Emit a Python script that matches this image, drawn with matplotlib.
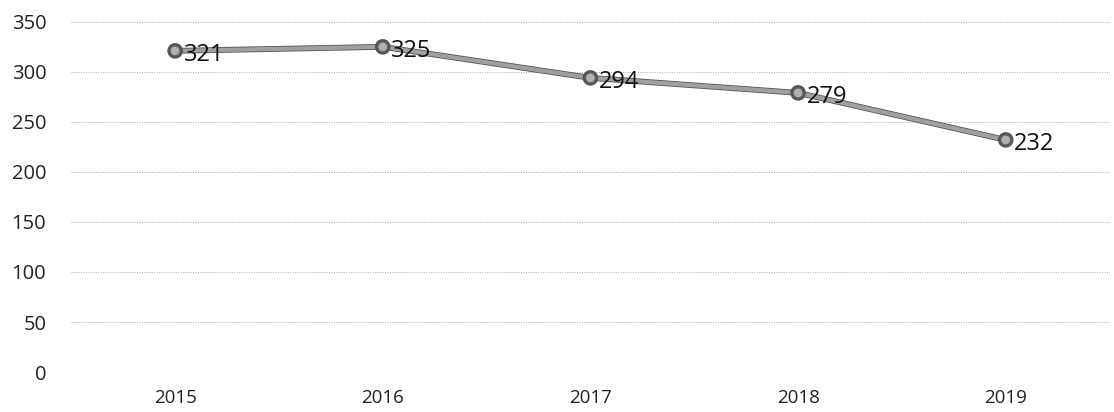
import matplotlib.pyplot as plt
import matplotlib.patheffects as pe

years = ["2015", "2016", "2017", "2018", "2019"]
values = [321, 325, 294, 279, 232]
y_ticks = [0, 50, 100, 150, 200, 250, 300, 350]

plt.rcParams["font.family"] = ["Open Sans", "DejaVu Sans"]

fig = plt.figure(figsize=(11.14, 4.12), dpi=100)
ax = fig.add_axes([0.064, 0.097, 0.932, 0.850])

x = list(range(len(years)))
ax.plot(x, values, color="#a0a0a0", linewidth=3, marker="o", markersize=7,
        markerfacecolor="#b0b0b0", markeredgecolor="#666666", markeredgewidth=0.8,
        path_effects=[pe.Stroke(linewidth=4.2, foreground="#555555"), pe.Normal()],
        zorder=3)

for xi, v in zip(x, values):
    ax.annotate(str(v), (xi, v), xytext=(6, -3), textcoords="offset points",
                ha="left", va="center", fontsize=17, color="#111111", zorder=4)

ax.set_xlim(-0.5, len(years) - 0.5)
ax.set_ylim(0, 350)
ax.set_xticks(x)
ax.set_xticklabels(years)
ax.set_yticks(y_ticks)
ax.tick_params(axis="y", length=0, labelsize=14.5, colors="#222222", pad=18)
ax.tick_params(axis="x", length=0, labelsize=13.5, colors="#222222", pad=12)
ax.grid(axis="y", linestyle=(0, (1, 1.5)), color="#aaaaaa", linewidth=0.7)
for s in ax.spines.values():
    s.set_visible(False)

fig.savefig("out.png", dpi=100)
